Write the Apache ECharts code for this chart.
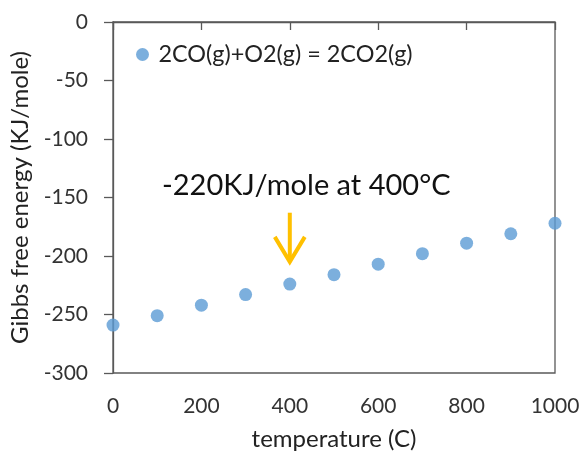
<!DOCTYPE html>
<html>
<head>
<meta charset="utf-8">
<script src="https://cdn.jsdelivr.net/npm/echarts@6/dist/echarts.min.js"></script>
<style>
html,body{margin:0;padding:0;background:#fff;}
#chart{width:584px;height:455px;}
</style>
</head>
<body>
<div id="chart"></div>
<script>
var seriesName = '2CO(g)+O2(g) = 2CO2(g)';
var temperatures = [0, 100, 200, 300, 400, 500, 600, 700, 800, 900, 1000];
var gibbs = [-259, -251, -242, -233, -224, -216, -207, -198, -189, -181, -172];
var xTitle = 'temperature (C)';
var yTitle = 'Gibbs free energy (KJ/mole)';
var annotationText = '-220KJ/mole at 400°C';
var arrowStart = [400, -163];
var arrowTip = [400, -205];

var FONT = 'Lato';
var chart = echarts.init(document.getElementById('chart'));
var data = temperatures.map(function (t, i) { return [t, gibbs[i]]; });

chart.setOption({
  animation: false,
  backgroundColor: '#fff',
  grid: {left: 113, right: 29, top: 22, bottom: 82, show: true, borderColor: '#595959', borderWidth: 1.3,
    containLabel: false, outerBoundsMode: 'none'},
  legend: {
    left: 131, top: 38, itemWidth: 22, itemHeight: 13, itemGap: 6,
    icon: 'circle',
    textStyle: {fontFamily: FONT, fontSize: 23.4, color: '#222'},
    data: [seriesName]
  },
  xAxis: {
    type: 'value', min: 0, max: 1000, interval: 200,
    name: xTitle, nameLocation: 'middle', nameGap: 54,
    nameTextStyle: {fontFamily: FONT, fontSize: 24, color: '#222'},
    axisLine: {show: true, lineStyle: {color: '#595959', width: 1.3}},
    axisTick: {show: true, length: 8, inside: false, lineStyle: {color: '#595959', width: 1.3}},
    axisLabel: {fontFamily: FONT, fontSize: 21, color: '#333', margin: 23,
      formatter: function (v) { return String(v); }},
    splitLine: {show: false}
  },
  yAxis: {
    type: 'value', min: -300, max: 0, interval: 50,
    name: yTitle, nameLocation: 'middle', nameGap: 80, nameRotate: 90,
    nameTextStyle: {fontFamily: FONT, fontSize: 24, color: '#222'},
    axisLine: {show: true, lineStyle: {color: '#595959', width: 1.3}},
    axisTick: {show: true, length: 9, inside: false, lineStyle: {color: '#595959', width: 1.3}},
    axisLabel: {fontFamily: FONT, fontSize: 21, color: '#333', margin: 25},
    splitLine: {show: false}
  },
  series: [{
    name: seriesName, type: 'scatter', data: data,
    symbol: 'circle', symbolSize: 13,
    itemStyle: {color: '#5B9BD5'}
  }]
});

var pStart = chart.convertToPixel({gridIndex: 0}, arrowStart);
var pTip = chart.convertToPixel({gridIndex: 0}, arrowTip);
var orange = '#FFC000';
chart.setOption({
  graphic: [
    {type: 'line', shape: {x1: pStart[0], y1: pStart[1], x2: pTip[0], y2: pTip[1] - 2}, style: {stroke: orange, lineWidth: 4}},
    {type: 'polyline', shape: {points: [[pTip[0] - 15, pTip[1] - 25], [pTip[0], pTip[1]], [pTip[0] + 15, pTip[1] - 25]]}, style: {stroke: orange, lineWidth: 4, fill: null}},
    {type: 'text', x: 162, y: 186, style: {text: annotationText, fontFamily: FONT, fontSize: 29, fill: '#111', verticalAlign: 'middle', align: 'left'}}
  ]
});
</script>
</body>
</html>
